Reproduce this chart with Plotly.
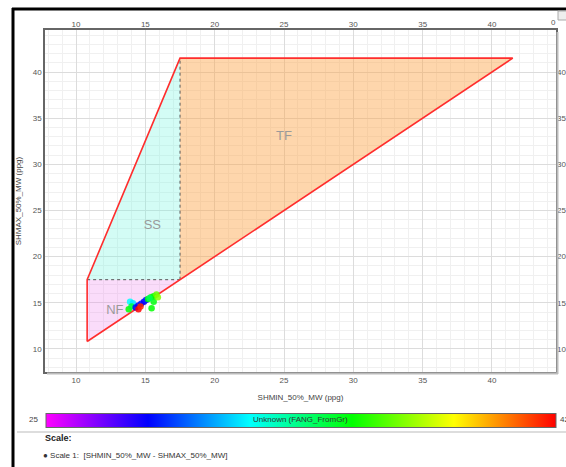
import plotly.graph_objects as go

# ---- data ----
nf_x = [10.8, 10.8, 17.5, 10.8]
nf_y = [10.8, 17.5, 17.5, 10.8]
ss_x = [10.8, 17.5, 17.5, 10.8]
ss_y = [17.5, 41.5, 17.5, 17.5]
tf_x = [17.5, 17.5, 41.5, 17.5]
tf_y = [17.5, 41.5, 41.5, 17.5]
outline_x = [10.8, 10.8, 17.5, 41.5, 10.8]
outline_y = [10.8, 17.5, 41.5, 41.5, 10.8]
dash_h_x = [10.8, 17.5]
dash_h_y = [17.5, 17.5]
dash_v_x = [17.5, 17.5]
dash_v_y = [17.5, 41.5]

shmin = [13.9, 14.1, 13.8, 14.0, 14.3, 14.5, 14.7, 14.9, 15.05, 15.2, 15.4, 15.6, 15.8, 15.6, 15.9, 15.45, 15.3, 14.5, 14.65]
shmax = [15.1, 14.95, 14.3, 14.6, 14.5, 14.7, 14.9, 15.1, 15.3, 15.4, 15.6, 15.7, 15.9, 15.1, 15.6, 14.4, 15.5, 14.3, 14.6]
fang = [31.8, 31.5, 35.2, 34.5, 28.4, 28.4, 28.6, 28.4, 28.8, 35.2, 35.0, 35.3, 36.5, 35.0, 37.0, 35.2, 34.0, 42.0, 41.5]

region_labels = ["TF", "SS", "NF"]
label_x = [25.0, 15.5, 12.8]
label_y = [33.0, 23.3, 14.1]

x_ticks = [10, 15, 20, 25, 30, 35, 40]
y_ticks = [10, 15, 20, 25, 30, 35, 40]
cmin, cmax = 25, 42

colorscale = [[0.0, "#ff00ff"], [0.2, "#0000ff"], [0.4, "#00ffff"],
              [0.6, "#00ff00"], [0.8, "#ffff00"], [1.0, "#ff0000"]]

FONT = "Liberation Sans"
xr = [7.76, 44.62]
yr = [7.5, 44.55]

fig = go.Figure()
fig.add_trace(go.Scatter(x=tf_x, y=tf_y, fill="toself", mode="none",
                         fillcolor="rgba(252,165,70,0.45)", hoverinfo="skip", showlegend=False))
fig.add_trace(go.Scatter(x=ss_x, y=ss_y, fill="toself", mode="none",
                         fillcolor="rgba(120,245,225,0.33)", hoverinfo="skip", showlegend=False))
fig.add_trace(go.Scatter(x=nf_x, y=nf_y, fill="toself", mode="none",
                         fillcolor="rgba(240,140,240,0.30)", hoverinfo="skip", showlegend=False))
fig.add_trace(go.Scatter(x=dash_h_x, y=dash_h_y, mode="lines",
                         line=dict(color="#555", width=1, dash="dot"), showlegend=False))
fig.add_trace(go.Scatter(x=dash_v_x, y=dash_v_y, mode="lines",
                         line=dict(color="#555", width=1, dash="dot"), showlegend=False))
fig.add_trace(go.Scatter(x=outline_x, y=outline_y, mode="lines",
                         line=dict(color="#ff2d2d", width=1.6), showlegend=False))
fig.add_trace(go.Scatter(x=label_x, y=label_y, mode="text", text=region_labels,
                         textfont=dict(family=FONT, size=13, color="#9a9a9a"),
                         showlegend=False))
fig.add_trace(go.Scatter(
    x=shmin, y=shmax, mode="markers", showlegend=False,
    marker=dict(size=6.5, color=fang, cmin=cmin, cmax=cmax, colorscale=colorscale,
                opacity=0.85,
                colorbar=dict(orientation="h", thickness=14, thicknessmode="pixels",
                              len=0.998, lenmode="fraction", x=0.5, xanchor="center",
                              y=(372 - 420.5) / 342, yanchor="middle", xpad=0, ypad=0,
                              outlinecolor="#666", outlinewidth=1,
                              showticklabels=False, ticks=""))))
# invisible trace for mirrored (top/right) axes
fig.add_trace(go.Scatter(x=[shmin[0]], y=[shmax[0]], xaxis="x2", yaxis="y2",
                         mode="markers", marker=dict(opacity=0), hoverinfo="skip",
                         showlegend=False))

axis_common = dict(showgrid=True, gridcolor="#dcdcdc", gridwidth=1,
                   minor=dict(dtick=1, showgrid=True, gridcolor="#f0f0f0", gridwidth=1),
                   zeroline=False, ticks="", automargin=False,
                   tickfont=dict(family=FONT, size=8, color="#555"))

fig.update_layout(
    width=566, height=467,
    margin=dict(l=45, r=10, t=30, b=95, autoexpand=False),
    paper_bgcolor="white", plot_bgcolor="white",
    xaxis=dict(range=xr, tickvals=x_ticks, showline=True, linecolor="#666",
               linewidth=1.5, mirror=True,
               title=dict(text="SHMIN_50%_MW (ppg)", standoff=10,
                          font=dict(family=FONT, size=8, color="#444")),
               **axis_common),
    yaxis=dict(range=yr, tickvals=y_ticks, showline=True, linecolor="#666",
               linewidth=1.5, mirror=True,
               title=dict(text="SHMAX_50%_MW (ppg)", standoff=10,
                          font=dict(family=FONT, size=8, color="#444")),
               **axis_common),
    xaxis2=dict(range=xr, tickvals=x_ticks, overlaying="x", side="top", anchor="y2",
                showgrid=False, zeroline=False, ticks="", automargin=False,
                tickfont=dict(family=FONT, size=8, color="#555")),
    yaxis2=dict(range=yr, tickvals=y_ticks, overlaying="y", side="right", anchor="x2",
                showgrid=False, zeroline=False, ticks="", automargin=False,
                tickfont=dict(family=FONT, size=8, color="#555")),
)

def px_x(p):
    return (p - 45) / 511

def px_y(p):
    return (372 - p) / 342

shapes = [
    # outer black frame (left and top)
    dict(type="line", xref="paper", yref="paper", x0=px_x(13), x1=px_x(13),
         y0=px_y(8), y1=px_y(470), line=dict(color="black", width=3)),
    dict(type="line", xref="paper", yref="paper", x0=px_x(12), x1=px_x(570),
         y0=px_y(9), y1=px_y(9), line=dict(color="black", width=3)),
    # plot shadow
    dict(type="line", xref="paper", yref="paper", x0=px_x(557.5), x1=px_x(557.5),
         y0=px_y(32), y1=px_y(374), line=dict(color="#bbb", width=2)),
    dict(type="line", xref="paper", yref="paper", x0=px_x(47), x1=px_x(558),
         y0=px_y(373.5), y1=px_y(373.5), line=dict(color="#bbb", width=2)),
    # separator
    dict(type="line", xref="paper", yref="paper", x0=px_x(17), x1=px_x(570),
         y0=px_y(432), y1=px_y(432), line=dict(color="#dddddd", width=2)),
    # small button top-right
    dict(type="rect", xref="paper", yref="paper", x0=px_x(558), x1=px_x(570),
         y0=px_y(20), y1=px_y(11), line=dict(color="#aaa", width=1), fillcolor="#eeeeee"),
]
fig.update_layout(shapes=shapes)

ann_font = dict(family=FONT, size=8, color="#444")
annotations = [
    dict(text="Unknown (FANG_FromGr)", x=px_x(300), y=px_y(419.5), xanchor="center",
         font=dict(family=FONT, size=8, color="#333")),
    dict(text=str(cmin), x=px_x(40), y=px_y(419.5), xanchor="right", font=ann_font),
    dict(text=str(cmax), x=px_x(558), y=px_y(419.5), xanchor="left", font=ann_font),
    dict(text="<b>Scale:</b>", x=px_x(43), y=px_y(438), xanchor="left",
         font=dict(family=FONT, size=9, color="#222")),
    dict(text="\u25cf Scale 1:  [SHMIN_50%_MW - SHMAX_50%_MW]", x=px_x(41), y=px_y(455),
         xanchor="left", font=dict(family=FONT, size=8, color="#333")),
    dict(text="0", x=px_x(553), y=px_y(22), xanchor="center",
         font=dict(family=FONT, size=8, color="#555")),
]
for a in annotations:
    a.update(xref="paper", yref="paper", yanchor="middle", showarrow=False)
fig.update_layout(annotations=annotations)

fig.write_html("out.html", post_script="document.body.style.margin='0';",
               config={"displayModeBar": False})
